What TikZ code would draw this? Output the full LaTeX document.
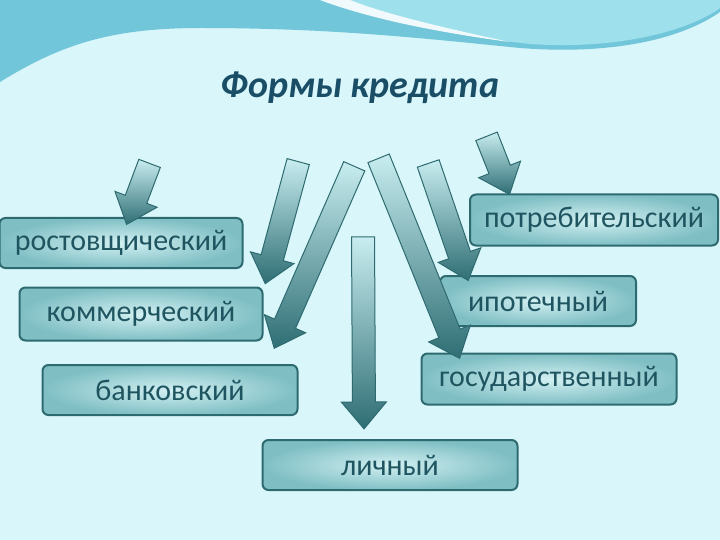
\documentclass[tikz,border=0pt]{standalone}
\usepackage{fontspec}
\setmainfont{Carlito}
\usetikzlibrary{shapes.arrows,calc}
\definecolor{bg}{HTML}{D9F6FA}
\definecolor{wave}{HTML}{72C6DA}
\definecolor{wave2}{HTML}{9EE0EC}
\definecolor{edge}{HTML}{2E6B70}
\definecolor{boxin}{HTML}{D2F0F2}
\definecolor{boxout}{HTML}{7FBFC4}
\definecolor{txt}{HTML}{1F5560}
\definecolor{title}{HTML}{1A4E66}
\definecolor{arlight}{HTML}{C8EDF0}
\definecolor{ardark}{HTML}{2E6E74}
\tikzset{
  formbox/.style={draw=edge, line width=2pt, rounded corners=6pt, inner color=boxin, outer color=boxout, text=txt, font=\fontsize{30}{32}\selectfont, inner sep=0pt},
  blockarrow/.style={single arrow, draw=edge, line width=1pt, top color=arlight, bottom color=ardark, inner xsep=0pt, inner ysep=11pt, single arrow head extend=11pt, single arrow tip angle=80, single arrow head indent=0pt},
}
\newcommand{\blkarrow}[5]{% name, x1,y1, x2,y2
  \path let \p1=(#2,#3), \p2=(#4,#5), \n1={atan2(\y2-\y1,\x2-\x1)}, \n2={veclen(\x2-\x1,\y2-\y1)} in
    node[blockarrow, minimum height=\n2, rotate=\n1] (#1) at ($(#2,#3)!0.5!(#4,#5)$) {};}
\begin{document}
\begin{tikzpicture}[x=1pt,y=-1pt]
\useasboundingbox (0,0) rectangle (720,540);
\fill[bg] (0,0) rectangle (720,540);
\fill[wave] (0,0) -- (0,82) .. controls (60,45) and (110,28) .. (200,28) .. controls (330,28) and (420,38) .. (520,48) .. controls (610,55) and (680,40) .. (720,12) -- (720,0) -- cycle;
\fill[wave2] (330,0) .. controls (380,20) and (450,35) .. (530,44) .. controls (620,50) and (690,30) .. (720,8) -- (720,0) -- cycle;
\fill[white!85!wave2] (320,0) .. controls (360,15) and (420,30) .. (510,42) .. controls (430,25) and (380,12) .. (350,0) -- cycle;
\node[font=\fontsize{38}{40}\selectfont\bfseries\itshape, text=title] (title) at (360,88) {Формы кредита};
\node[formbox, minimum width=243pt, minimum height=50pt] (r) at (121,243) {ростовщический};
\node[formbox, minimum width=243pt, minimum height=53pt] (k) at (141,314) {коммерческий};
\node[formbox, minimum width=255pt, minimum height=50pt] (b) at (170,390) {банковский};
\node[formbox, minimum width=248pt, minimum height=51pt] (p) at (594,220) {потребительский};
\node[formbox, minimum width=196pt, minimum height=50pt] (i) at (538,301) {ипотечный};
\node[formbox, minimum width=255pt, minimum height=51pt] (g) at (549,379) {государственный};
\node[formbox, minimum width=255pt, minimum height=50pt] (l) at (390,465) {личный};
\blkarrow{a1}{152}{157}{129}{218}
\blkarrow{a2}{300}{155}{267}{277}
\blkarrow{a3}{357}{160}{277}{342}
\blkarrow{a4}{363}{230}{364}{422}
\blkarrow{a5}{376}{152}{457}{352}
\blkarrow{a6}{426}{157}{466}{274}
\blkarrow{a7}{484}{130}{507}{188}
\end{tikzpicture}
\end{document}
